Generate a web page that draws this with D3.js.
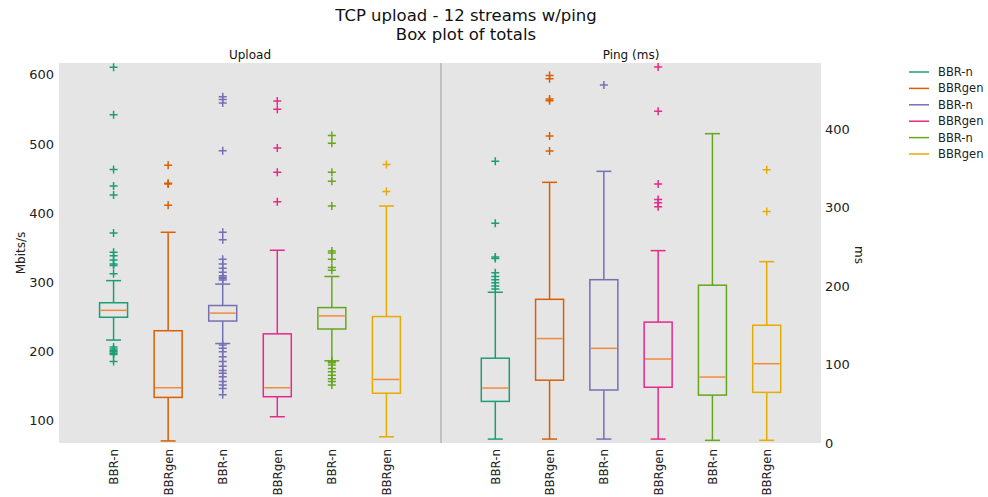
<!DOCTYPE html>
<html>
<head>
<meta charset="utf-8">
<script src="https://cdn.jsdelivr.net/npm/d3@7"></script>
<style>
  html, body { margin: 0; padding: 0; background: #fff; }
  svg { display: block; font-family: "DejaVu Sans", sans-serif; }
</style>
</head>
<body>
<svg id="chart" width="988" height="497"></svg>
<script>
// Series labels and colours (one box per series in each panel)
const categories = ["BBR-n", "BBRgen", "BBR-n", "BBRgen", "BBR-n", "BBRgen"];
const colors = ["#1b9e77", "#d95f02", "#7570b3", "#e7298a", "#66a61e", "#e6ab02"];

// Upload totals (Mbits/s): [whisker low, Q1, median, Q3, whisker high]
const uploadStats = [
  [216, 249, 259, 270, 302],
  [70, 133, 147, 229.5, 372],
  [211, 243.5, 255, 266, 297],
  [105, 134, 147, 225, 346],
  [186, 232, 251, 263, 308],
  [76, 139, 159, 250, 410]
];
const uploadOutliers = [
  [611, 542, 463, 439, 426, 371, 343, 338, 332, 326, 324, 312, 206, 203, 201, 199, 197, 195, 185],
  [469, 443, 442, 411],
  [568, 564, 559, 490, 372, 361, 333, 326, 320, 314, 309, 307, 305, 303, 209, 204, 199, 192, 185, 178, 172, 168, 163, 156, 151, 146, 137],
  [562, 550, 494, 459, 416],
  [512, 501, 459, 446, 410, 345, 342, 333, 321, 317, 185, 183, 180, 175, 170, 165, 160, 156, 151],
  [470, 431]
];

// Ping (ms): [whisker low, Q1, median, Q3, whisker high]
const pingStats = [
  [5, 53, 70, 108, 192],
  [5, 80, 133, 183, 332],
  [5, 67.5, 120.6, 208, 346],
  [5, 71, 107, 154, 245],
  [3.4, 61, 84, 201, 394],
  [3.4, 64.5, 101, 150, 231]
];
const pingOutliers = [
  [359, 280, 237, 235, 217, 212, 208, 204, 200, 196],
  [468, 464, 438, 436, 391, 372],
  [456],
  [479, 422.5, 330, 310, 306, 301],
  [],
  [348, 295]
];

const uploadTicks = [100, 200, 300, 400, 500, 600];
const pingTicks = [0, 100, 200, 300, 400];

const svg = d3.select("#chart");
const plotTop = 63, plotBottom = 443;
const medianColor = "#f28a3c";
const bg = "#e5e5e5";

const leftPanel = { x0: 59, x1: 441 };
const rightPanel = { x0: 441, x1: 821 };

const yUpload = d3.scaleLinear().domain([67, 617]).range([plotBottom, plotTop]);
const yPing = d3.scaleLinear().domain([0, 484]).range([plotBottom, plotTop]);

// Panel backgrounds
svg.append("rect").attr("x", leftPanel.x0).attr("y", plotTop)
  .attr("width", rightPanel.x1 - leftPanel.x0).attr("height", plotBottom - plotTop).attr("fill", bg);
svg.append("line").attr("x1", 441).attr("x2", 441).attr("y1", plotTop).attr("y2", plotBottom)
  .attr("stroke", "#9a9a9a").attr("stroke-width", 1);

function drawPanel(panel, y, stats, outliers) {
  const idx = d3.range(categories.length);
  const x = d3.scalePoint().domain(idx).range([panel.x0, panel.x1]).padding(1);
  const boxW = 28, capW = 15;
  const g = svg.append("g");

  idx.forEach(i => {
    const [lo, q1, med, q3, hi] = stats[i];
    const cx = x(i);
    const c = colors[i];
    const gg = g.append("g").attr("stroke", c).attr("fill", "none").attr("stroke-width", 1.5);
    // whiskers
    gg.append("line").attr("x1", cx).attr("x2", cx).attr("y1", y(q3)).attr("y2", y(hi));
    gg.append("line").attr("x1", cx).attr("x2", cx).attr("y1", y(q1)).attr("y2", y(lo));
    // caps
    gg.append("line").attr("x1", cx - capW / 2).attr("x2", cx + capW / 2).attr("y1", y(hi)).attr("y2", y(hi));
    gg.append("line").attr("x1", cx - capW / 2).attr("x2", cx + capW / 2).attr("y1", y(lo)).attr("y2", y(lo));
    // box
    gg.append("rect").attr("x", cx - boxW / 2).attr("y", y(q3))
      .attr("width", boxW).attr("height", y(q1) - y(q3));
    // median
    g.append("line").attr("x1", cx - boxW / 2 + 1).attr("x2", cx + boxW / 2 - 1)
      .attr("y1", y(med)).attr("y2", y(med)).attr("stroke", medianColor).attr("stroke-width", 1.5);
    // outlier markers (+)
    const s = 4;
    gg.selectAll("path.flier").data(outliers[i]).join("path")
      .attr("class", "flier")
      .attr("d", v => `M${cx - s},${y(v)}H${cx + s}M${cx},${y(v) - s}V${y(v) + s}`);
    // category label
    svg.append("text")
      .attr("transform", `translate(${cx + 4.5},${449}) rotate(-90)`)
      .attr("text-anchor", "end").attr("font-size", 11.8).attr("fill", "#222")
      .text(categories[i]);
  });
}

drawPanel(leftPanel, yUpload, uploadStats, uploadOutliers);
drawPanel(rightPanel, yPing, pingStats, pingOutliers);

// Left axis (Upload)
const axL = svg.append("g").attr("transform", `translate(${leftPanel.x0},0)`)
  .call(d3.axisLeft(yUpload).tickValues(uploadTicks).tickSize(0).tickPadding(5));
axL.select(".domain").remove();
axL.selectAll("text").attr("font-size", 13).attr("fill", "#222").attr("font-family", "DejaVu Sans, sans-serif");

// Right axis (Ping)
const axR = svg.append("g").attr("transform", `translate(${rightPanel.x1},0)`)
  .call(d3.axisRight(yPing).tickValues(pingTicks).tickSize(0).tickPadding(4));
axR.select(".domain").remove();
axR.selectAll("text").attr("font-size", 13).attr("fill", "#222").attr("font-family", "DejaVu Sans, sans-serif");

// Axis titles
svg.append("text").attr("transform", `translate(25,253) rotate(-90)`)
  .attr("text-anchor", "middle").attr("font-size", 12).attr("fill", "#222").text("Mbits/s");
svg.append("text").attr("transform", `translate(855,255) rotate(90)`)
  .attr("text-anchor", "middle").attr("font-size", 12).attr("fill", "#222").text("ms");

// Titles
svg.append("text").attr("x", 466).attr("y", 21).attr("text-anchor", "middle")
  .attr("font-size", 16.5).attr("fill", "#111").text("TCP upload - 12 streams w/ping");
svg.append("text").attr("x", 466).attr("y", 40).attr("text-anchor", "middle")
  .attr("font-size", 16.5).attr("fill", "#111").text("Box plot of totals");
svg.append("text").attr("x", (leftPanel.x0 + leftPanel.x1) / 2).attr("y", 59).attr("text-anchor", "middle")
  .attr("font-size", 12).attr("fill", "#111").text("Upload");
svg.append("text").attr("x", (rightPanel.x0 + rightPanel.x1) / 2).attr("y", 59).attr("text-anchor", "middle")
  .attr("font-size", 12).attr("fill", "#111").text("Ping (ms)");

// Legend
const legend = svg.append("g").attr("transform", "translate(909,72)");
categories.forEach((name, i) => {
  const row = legend.append("g").attr("transform", `translate(0,${i * 16.4})`);
  row.append("line").attr("x1", 0).attr("x2", 20).attr("y1", 0).attr("y2", 0)
    .attr("stroke", colors[i]).attr("stroke-width", 1.5);
  row.append("text").attr("x", 29).attr("y", 4).attr("font-size", 11.5).attr("fill", "#222").text(name);
});
</script>
</body>
</html>
